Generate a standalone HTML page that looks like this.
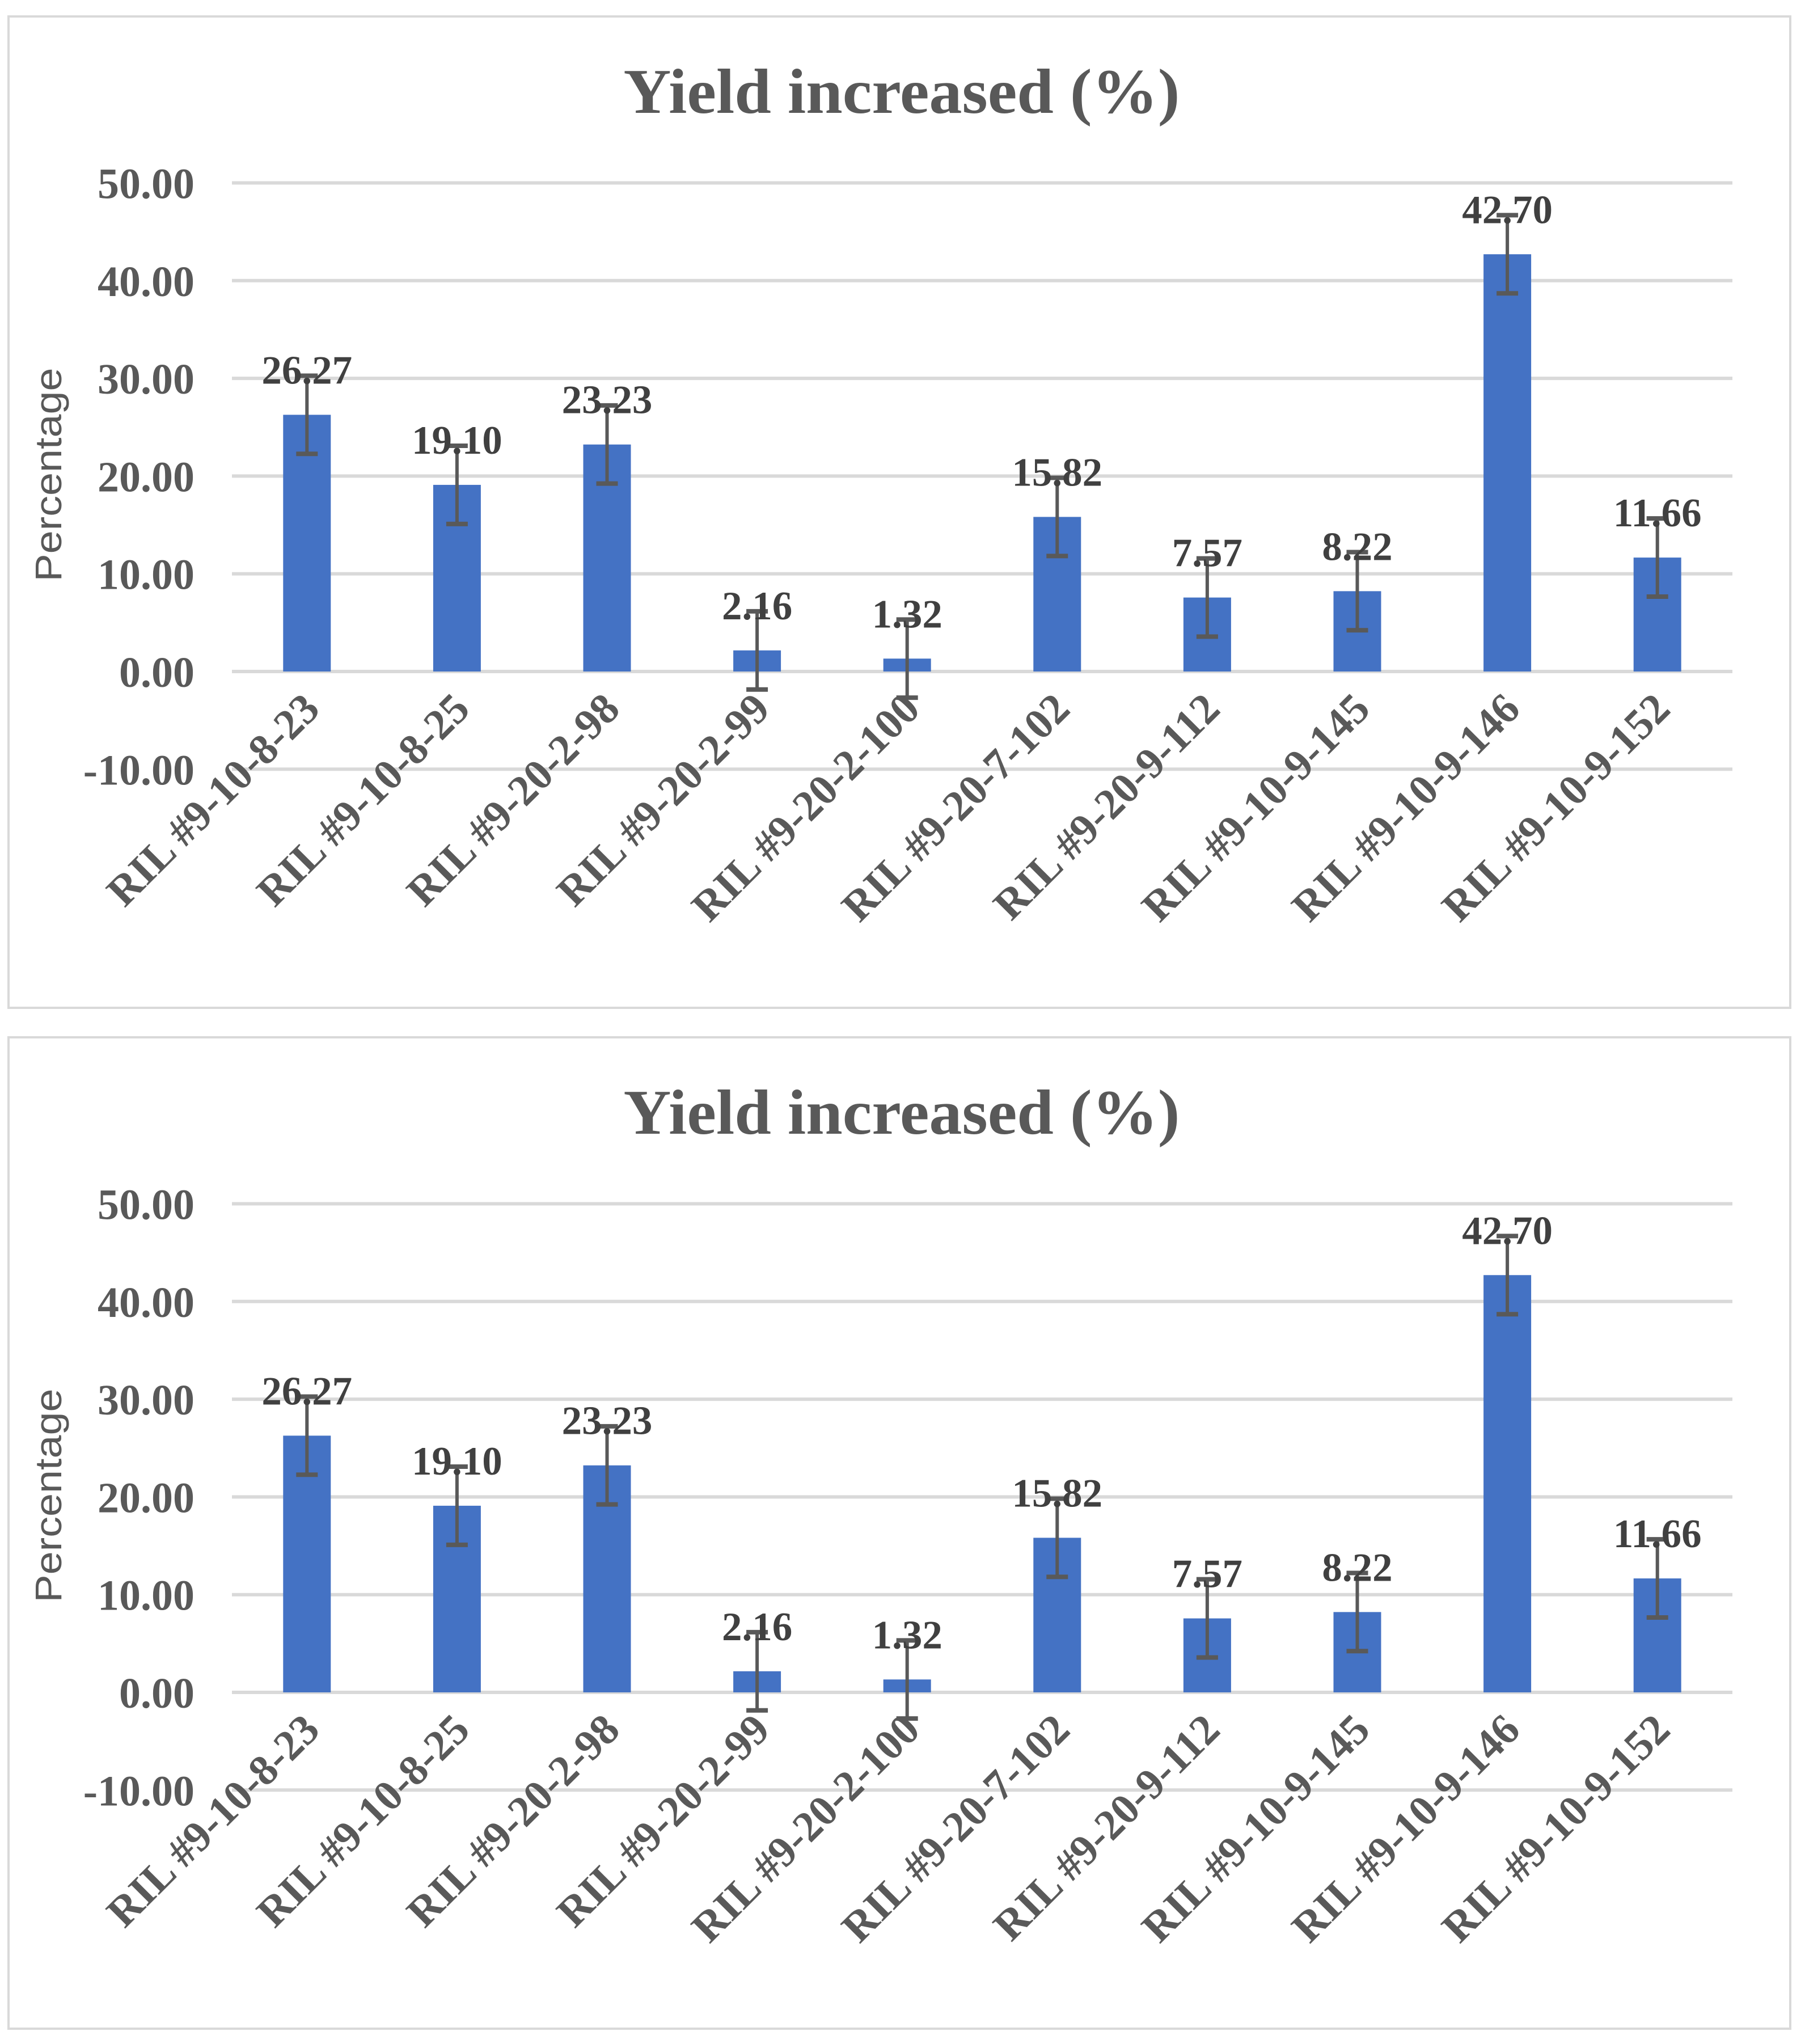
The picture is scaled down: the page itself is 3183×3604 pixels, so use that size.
<!DOCTYPE html>
<html><head><meta charset="utf-8"><style>
html,body{margin:0;padding:0;background:#fff;}
svg{display:block;}
</style></head>
<body>
<svg id="root" width="3183" height="3604" viewBox="0 0 3183 3604" xmlns="http://www.w3.org/2000/svg"></svg>
<script>
const categories = ["RIL #9-10-8-23","RIL #9-10-8-25","RIL #9-20-2-98","RIL #9-20-2-99","RIL #9-20-2-100","RIL #9-20-7-102","RIL #9-20-9-112","RIL #9-10-9-145","RIL #9-10-9-146","RIL #9-10-9-152"];
const values = [26.27, 19.10, 23.23, 2.16, 1.32, 15.82, 7.57, 8.22, 42.70, 11.66];
const valueLabels = ["26.27","19.10","23.23","2.16","1.32","15.82","7.57","8.22","42.70","11.66"];
const errors = [4.0, 4.0, 4.0, 4.0, 4.0, 4.0, 4.0, 4.0, 4.0, 4.0];
const yTicks = [-10, 0, 10, 20, 30, 40, 50];
const yTickLabels = ["-10.00","0.00","10.00","20.00","30.00","40.00","50.00"];

const NS = "http://www.w3.org/2000/svg";
const root = document.getElementById('root');
function mk(tag, attrs, parent) {
  const e = document.createElementNS(NS, tag);
  for (const k in attrs) e.setAttribute(k, attrs[k]);
  parent.appendChild(e);
  return e;
}

function drawChart(oy, idx) {
  const g = mk('g', {}, root);
  
  
  const plotL = 409, plotR = 3055;
  const zeroY = oy + 1184, unit = 17.23;
  const yS = v => zeroY - v * unit;
  const band = (plotR - plotL) / categories.length;
  const xC = i => plotL + band * (i + 0.5);

  const border = mk('rect', {x: 15, y: oy + 29, width: 3142, height: 1748, fill: '#fff', stroke: '#d9d9d9', 'stroke-width': 4}, g);
  
  

  const title = mk('text', {x: 1590, y: oy + 199, 'text-anchor': 'middle', 'font-family': '"Liberation Serif", serif', 'font-weight': 'bold', 'font-size': 112, fill: '#595959', textLength: 981, lengthAdjust: 'spacingAndGlyphs'}, g);
  title.textContent = 'Yield increased (%)';
  
  

  const yt = mk('text', {x: 0, y: 0, transform: `translate(108 ${oy + 837}) rotate(-90)`, 'text-anchor': 'middle', 'font-family': '"Liberation Sans", sans-serif', 'font-size': 66, fill: '#595959', textLength: 377, lengthAdjust: 'spacingAndGlyphs'}, g);
  yt.textContent = 'Percentage';
  
  

  yTicks.forEach((t, i) => {
    const gl = mk('line', {x1: plotL, x2: plotR, y1: yS(t), y2: yS(t), stroke: '#d9d9d9', 'stroke-width': 6}, g);
    
    
    const tl = mk('text', {x: 343, y: yS(t) + 27, 'text-anchor': 'end', 'font-family': '"Liberation Serif", serif', 'font-weight': 'bold', 'font-size': 76, fill: '#595959'}, g);
    tl.textContent = yTickLabels[i];
    
    
  });

  const bw = 84;
  values.forEach((v, i) => {
    const c = xC(i);
    const bar = mk('rect', {x: c - bw / 2, y: Math.min(yS(v), zeroY), width: bw, height: Math.abs(yS(v) - zeroY), fill: '#4472c4'}, g);
    
    
    const e = errors[i];
    const el = mk('line', {x1: c, x2: c, y1: yS(v + e), y2: yS(v - e), stroke: '#595959', 'stroke-width': 6}, g);
    
    
    [v + e, v - e].forEach(ev => {
      const cap = mk('line', {x1: c - 19, x2: c + 19, y1: yS(ev), y2: yS(ev), stroke: '#595959', 'stroke-width': 8}, g);
      
      
    });
    const lab = mk('text', {x: c, y: yS(v) - 55, 'text-anchor': 'middle', 'font-family': '"Liberation Serif", serif', 'font-weight': 'bold', 'font-size': 71, fill: '#404040'}, g);
    lab.textContent = valueLabels[i];
    
    
    const cl = mk('text', {x: 0, y: 0, transform: `translate(${c + 26} ${oy + 1254}) rotate(-45)`, 'text-anchor': 'end', 'font-family': '"Liberation Serif", serif', 'font-weight': 'bold', 'font-size': 76, fill: '#595959'}, g);
    cl.textContent = categories[i];
    
    
  });
}
drawChart(0, 1);
drawChart(1800, 2);
</script>
</body></html>
